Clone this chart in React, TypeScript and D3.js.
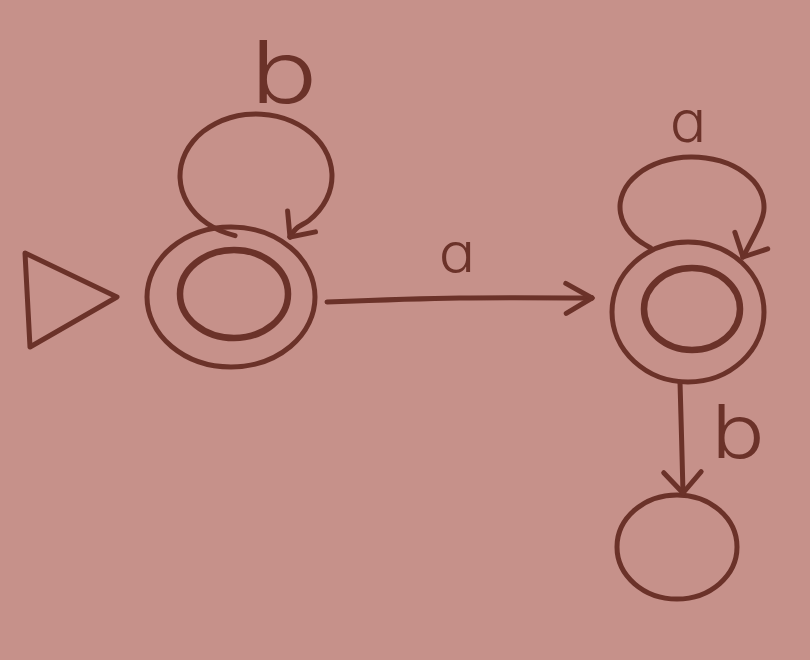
import { useRef, useEffect } from 'react'
import * as d3 from 'd3'

const W = 810
const H = 660
const PAPER = '#c6918a'
const INK = '#6b3229'

// automaton: states, accepting set, start, transitions
const STATES = ['q0', 'q1', 'q2']
const ACCEPTING = ['q0', 'q1']
const START = 'q0'
const EDGE_FROM = ['q0', 'q0', 'q1', 'q1']
const EDGE_TO = ['q0', 'q1', 'q1', 'q2']
const EDGE_SYMBOL = ['b', 'a', 'a', 'b']

// layout
type Node = { cx: number; cy: number; rx: number; ry: number; icx?: number; icy?: number; irx?: number; iry?: number }
const NODE: Record<string, Node> = {
  q0: { cx: 231, cy: 297, rx: 84, ry: 70, icx: 234, icy: 294, irx: 54, iry: 44 },
  q1: { cx: 688, cy: 312, rx: 76, ry: 70, icx: 692, icy: 309, irx: 48, iry: 41 },
  q2: { cx: 677, cy: 547, rx: 60, ry: 52 },
}
const LOOP: Record<string, { cx: number; cy: number; rx: number; ry: number; a0: number; a1: number; tx: number; ty: number }> = {
  q0: { cx: 256, cy: 176, rx: 76, ry: 62, a0: 106, a1: 418, tx: 290, ty: 237 },
  q1: { cx: 692, cy: 207, rx: 72, ry: 50, a0: 125, a1: 380, tx: 743, ty: 257 },
}
// label anchor (x centre, baseline), font size and horizontal stretch per edge
const LABEL_POS = [
  { x: 284, y: 103, size: 86, sx: 1.3 },
  { x: 457, y: 272, size: 55, sx: 1.1 },
  { x: 688, y: 142, size: 58, sx: 1.05 },
  { x: 738, y: 458, size: 74, sx: 1.2 },
]
const HEAD = [
  { len: 26, spread: 42 },
  { len: 30, spread: 30 },
  { len: 26, spread: 45 },
  { len: 28, spread: 42 },
]

type P = [number, number]

export default function App() {
  const svgRef = useRef<SVGSVGElement>(null)

  useEffect(() => {
    if (!svgRef.current) return
    const svg = d3.select(svgRef.current)
    svg.selectAll('*').remove()

    svg.append('rect').attr('width', W).attr('height', H).attr('fill', PAPER)

    const g = svg.append('g')
      .attr('fill', 'none')
      .attr('stroke', INK)
      .attr('stroke-width', 5)
      .attr('stroke-linecap', 'round')
      .attr('stroke-linejoin', 'round')

    const curve = d3.line<P>().curve(d3.curveCatmullRom.alpha(0.5))
    const straight = d3.line<P>()

    const arrowHead = (tip: P, from: P, len: number, spread: number) => {
      const dx = tip[0] - from[0]
      const dy = tip[1] - from[1]
      const base = Math.atan2(dy, dx)
      ;[-1, 1].forEach((s) => {
        const a = base + Math.PI + (s * spread * Math.PI) / 180
        g.append('path').attr('d', straight([[tip[0] + len * Math.cos(a), tip[1] + len * Math.sin(a)], tip]))
      })
    }

    // states
    STATES.forEach((id) => {
      const n = NODE[id]
      g.append('ellipse').attr('cx', n.cx).attr('cy', n.cy).attr('rx', n.rx).attr('ry', n.ry)
      if (ACCEPTING.includes(id)) {
        g.append('ellipse')
          .attr('cx', n.icx!).attr('cy', n.icy!).attr('rx', n.irx!).attr('ry', n.iry!)
          .attr('stroke-width', 6.5)
      }
    })

    // start marker
    const s = NODE[START]
    const sx = s.cx - s.rx - 30
    g.append('path')
      .attr('d', straight([[sx - 92, s.cy - 44], [sx, s.cy], [sx - 87, s.cy + 50]]) + 'Z')

    // transitions
    EDGE_FROM.forEach((from, i) => {
      const to = EDGE_TO[i]
      const h = HEAD[i]
      if (from === to) {
        const L = LOOP[from]
        const pts: P[] = d3.range(L.a0, L.a1 + 1, 12).map((deg) => {
          const t = (deg * Math.PI) / 180
          return [L.cx + L.rx * Math.cos(t), L.cy + L.ry * Math.sin(t)] as P
        })
        const tip: P = [L.tx, L.ty]
        pts.push(tip)
        g.append('path').attr('d', curve(pts))
        arrowHead(tip, pts[pts.length - 2], h.len, h.spread)
      } else {
        const a = NODE[from]
        const b = NODE[to]
        let p0: P
        let p1: P
        if (Math.abs(b.cx - a.cx) > Math.abs(b.cy - a.cy)) {
          p0 = [a.cx + a.rx + 12, a.cy + 5]
          p1 = [b.cx - b.rx - 20, a.cy + 1]
        } else {
          p0 = [a.cx - 8, a.cy + a.ry]
          p1 = [a.cx - 5, b.cy - b.ry - 2]
        }
        g.append('path').attr('d', curve([p0, [(p0[0] + p1[0]) / 2, (p0[1] + p1[1]) / 2 - 2], p1]))
        arrowHead(p1, p0, h.len, h.spread)
      }
      const lp = LABEL_POS[i]
      svg.append('text')
        .attr('transform', `translate(${lp.x},${lp.y}) scale(${lp.sx},1)`)
        .attr('text-anchor', 'middle')
        .attr('font-family', 'Inter, Roboto, sans-serif')
        .attr('font-weight', 300)
        .attr('font-size', lp.size)
        .attr('fill', INK)
        .style('font-feature-settings', "'cv11' 1")
        .text(EDGE_SYMBOL[i])
    })
  }, [])

  return (
    <svg
      ref={svgRef}
      width={W}
      height={H}
      viewBox={`0 0 ${W} ${H}`}
      style={{ position: 'fixed', left: 0, top: 0, display: 'block' }}
    />
  )
}
